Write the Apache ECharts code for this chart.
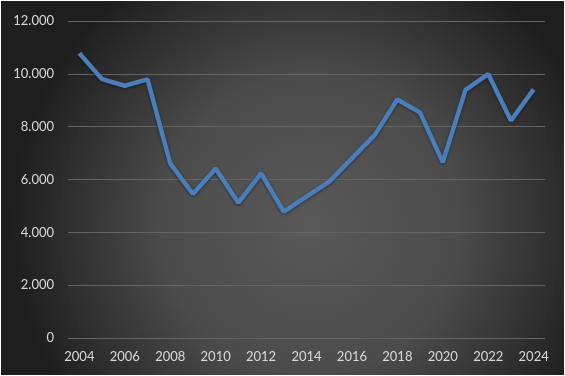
<!DOCTYPE html>
<html>
<head>
<meta charset="utf-8">
<script src="https://cdn.jsdelivr.net/npm/echarts@6/dist/echarts.min.js"></script>
<style>
  html, body { margin: 0; padding: 0; background: #ffffff; }
  #main { position: absolute; left: 1px; top: 1px; width: 563px; height: 374px; }
</style>
</head>
<body>
<div id="main"></div>
<script>
// years on the x axis
var years = ['2004','2005','2006','2007','2008','2009','2010','2011','2012','2013','2014',
             '2015','2016','2017','2018','2019','2020','2021','2022','2023','2024'];
// values
var values = [10780, 9800, 9550, 9790, 6610, 5450, 6420, 5120, 6230, 4780, 5350,
              5920, 6800, 7680, 9030, 8530, 6650, 9390, 9990, 8230, 9410];

var myChart = echarts.init(document.getElementById('main'));

var option = {
    backgroundColor: {
        type: 'radial', x: 0.55, y: 0.6, r: 0.8,
        colorStops: [
            { offset: 0, color: '#595959' },
            { offset: 0.5, color: '#4b4b4b' },
            { offset: 1, color: '#1e1e1e' }
        ]
    },
    animation: false,
    grid: { left: 67, right: 19, top: 20, bottom: 37 },
    xAxis: {
        type: 'category',
        data: years,
        boundaryGap: true,
        axisLine: { show: false },
        axisTick: { show: false },
        axisLabel: {
            interval: 1,
            color: '#d9d9d9',
            fontFamily: 'Lato',
            fontSize: 13,
            margin: 12
        }
    },
    yAxis: {
        type: 'value',
        min: 0,
        max: 12000,
        interval: 2000,
        axisLine: { show: false },
        axisTick: { show: false },
        splitLine: { lineStyle: { color: '#656565', width: 1 } },
        axisLabel: {
            color: '#d9d9d9',
            fontFamily: 'Lato',
            fontSize: 13,
            margin: 14,
            formatter: function (v) {
                return String(v).replace(/\B(?=(\d{3})+(?!\d))/g, '.');
            }
        }
    },
    series: [
        {
            type: 'line',
            data: values,
            symbol: 'none',
            lineStyle: {
                color: '#4a7ebb',
                width: 4.5,
                shadowColor: 'rgba(0,0,0,0.45)',
                shadowBlur: 3,
                shadowOffsetY: 1
            }
        }
    ]
};
myChart.setOption(option);
</script>
</body>
</html>
